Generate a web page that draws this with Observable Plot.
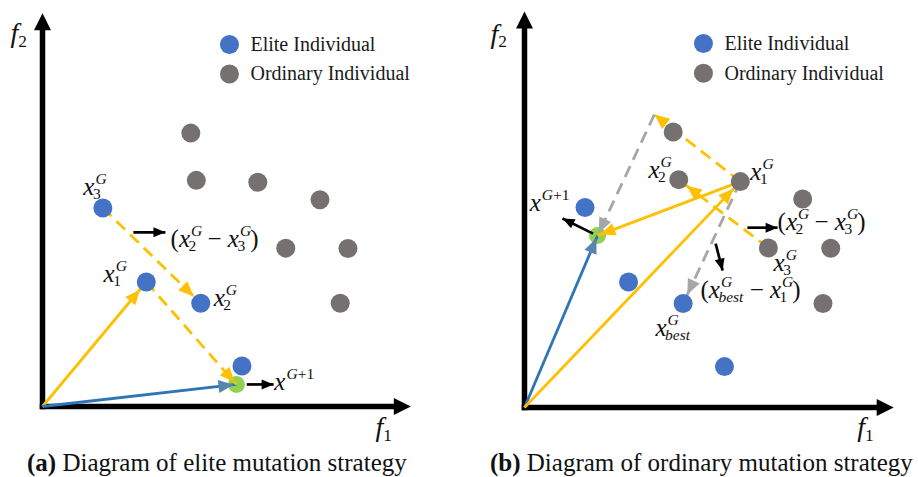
<!DOCTYPE html>
<html>
<head>
<meta charset="utf-8">
<script src="https://cdn.jsdelivr.net/npm/d3@7"></script>
<script src="https://cdn.jsdelivr.net/npm/@observablehq/plot@0.6"></script>
<style>
  body { margin: 0; background: #fff; }
  #fig { position: relative; width: 918px; height: 477px; overflow: hidden;
         font-family: "Liberation Serif", "DejaVu Serif", serif; color: #111; }
  .panel { position: absolute; top: 0; }
  .caption { position: absolute; top: 447.6px; font-size: 25px; line-height: 30px; white-space: nowrap; }
</style>
</head>
<body>
<div id="fig">
  <div class="panel" id="panel-a" style="left:0"></div>
  <div class="panel" id="panel-b" style="left:459px"></div>
  <div class="caption" style="left:27px"><b>(a)</b> Diagram of elite mutation strategy</div>
  <div class="caption" style="left:490px"><b>(b)</b> Diagram of ordinary mutation strategy</div>
</div>
<script>
// ---- population in objective space (f1, f2), shared by both strategies ----
const groups = ["Elite Individual", "Ordinary Individual"];
const elite = [
  {id: "e1", f1: 1.64, f2: 5.04},
  {id: "e2", f1: 2.82, f2: 3.16},
  {id: "e3", f1: 4.30, f2: 2.62},
  {id: "e4", f1: 5.42, f2: 1.03}
];
const ordinary = [
  {id: "o1", f1: 4.03, f2: 6.94},
  {id: "o2", f1: 4.18, f2: 5.74},
  {id: "o3", f1: 5.85, f2: 5.69},
  {id: "o4", f1: 7.54, f2: 5.25},
  {id: "o5", f1: 6.61, f2: 4.02},
  {id: "o6", f1: 8.30, f2: 4.01},
  {id: "o7", f1: 8.09, f2: 2.62}
];

// offspring x^{G+1} and the intermediate point x1 + (x2 - x3)
const offspringA = {id: "child", f1: 5.27, f2: 0.56};
const offspringB = {id: "child", f1: 1.98, f2: 4.33};
const partialB = {id: "v", f1: 3.52, f2: 7.38};

// vectors of each strategy ("O" is the origin of the objective space)
const vectorsA = [
  {from: "O", to: "e2", kind: "base"},
  {from: "O", to: "child", kind: "trial"},
  {from: "e1", to: "e3", kind: "diff"},
  {from: "e2", to: "child", kind: "diff"}
];
const vectorsB = [
  {from: "O", to: "child", kind: "trial"},
  {from: "O", to: "o3", kind: "base"},
  {from: "o3", to: "child", kind: "base"},
  {from: "o5", to: "o2", kind: "diff"},
  {from: "o3", to: "v", kind: "diff"},
  {from: "v", to: "child", kind: "best"},
  {from: "o3", to: "e3", kind: "best"}
];

// short black pointers from a term to its label
const pointersA = [
  {f1: 2.47, f2: 4.42, g1: 3.34, g2: 4.42},
  {f1: 5.55, f2: 0.56, g1: 6.28, g2: 0.56}
];
const pointersB = [
  {f1: 1.86, f2: 4.38, g1: 1.03, g2: 4.76},
  {f1: 6.04, f2: 4.53, g1: 6.86, g2: 4.53},
  {f1: 5.18, f2: 4.13, g1: 5.37, g2: 3.45}
];

// math labels: ^{..} superscript, _{..} subscript (anchored at the left baseline)
const labelsA = [
  {f1: 1.11, f2: 5.38, tex: "x^{G}_{3}"},
  {f1: 1.66, f2: 3.17, tex: "x^{G}_{1}"},
  {f1: 4.65, f2: 2.54, tex: "x^{G}_{2}"},
  {f1: 3.48, f2: 4.04, tex: "(x^{G}_{2} − x^{G}_{3})"},
  {f1: 6.30, f2: 0.41, tex: "x^{G+1}"}
];
const labelsB = [
  {f1: 3.36, f2: 5.79, tex: "x^{G}_{2}"},
  {f1: 6.12, f2: 5.74, tex: "x^{G}_{1}"},
  {f1: 0.14, f2: 4.94, tex: "x^{G+1}"},
  {f1: 6.86, f2: 4.46, tex: "(x^{G}_{2} − x^{G}_{3})"},
  {f1: 6.75, f2: 3.45, tex: "x^{G}_{3}"},
  {f1: 4.77, f2: 2.75, tex: "(x^{G}_{best} − x^{G}_{1})"},
  {f1: 3.55, f2: 1.81, tex: "x^{G}_{best}"}
];
// objective axis titles
const axisTitlesA = [
  {f1: -0.87, f2: 9.24, tex: "f_{2}"},
  {f1: 9.05, f2: -0.76, tex: "f_{1}"}
];
const axisTitlesB = [
  {f1: -0.92, f2: 9.19, tex: "f_{2}"},
  {f1: 9.02, f2: -0.73, tex: "f_{1}"}
];

// ---- styling ----
const AXIS_END = 9.6;
const BLUE = "#4472C4", GRAY = "#767171", GREEN = "#92D050", YELLOW = "#FFC000";
const R = 9.5;
const NS = "http://www.w3.org/2000/svg";
const VECTOR_STYLE = {
  base:  {stroke: YELLOW, head: YELLOW, width: 2.8},
  diff:  {stroke: YELLOW, head: YELLOW, width: 2.8, dash: "12,7"},
  trial: {stroke: "#2E75B6", head: "#5A84B0", width: 2.8},
  best:  {stroke: "#A6A6A6", head: "#A6A6A6", width: 2.8, dash: "12,7"}
};

// filled triangular arrowhead; `back` moves the tip back from the line end
function head({length, width, color, back = 0}) {
  return (stroke, context) => {
    const doc = (context && context.document) || document;
    const m = doc.createElementNS(NS, "marker");
    m.setAttribute("viewBox", `0 ${-width / 2} ${length} ${width}`);
    m.setAttribute("markerUnits", "userSpaceOnUse");
    m.setAttribute("markerWidth", length);
    m.setAttribute("markerHeight", width);
    m.setAttribute("refX", length + back);
    m.setAttribute("refY", 0);
    m.setAttribute("orient", "auto");
    m.setAttribute("overflow", "visible");
    const p = doc.createElementNS(NS, "path");
    p.setAttribute("d", `M0,${-width / 2}L${length},0L0,${width / 2}Z`);
    p.setAttribute("fill", color || stroke);
    p.setAttribute("stroke", "none");
    m.appendChild(p);
    return m;
  };
}

const population = [
  ...elite.map(d => ({...d, group: groups[0]})),
  ...ordinary.map(d => ({...d, group: groups[1]}))
];

function panel({margins, child, extra = [], vectors, pointers, labels, titles, legendAt}) {
  const pts = new Map([["O", {id: "O", f1: 0, f2: 0}], ...population.map(d => [d.id, d])]);
  pts.set("child", child);
  for (const e of extra) pts.set(e.id, e);

  const axes = [
    {f1: 0, f2: 0, g1: AXIS_END, g2: 0},
    {f1: 0, f2: 0, g1: 0, g2: AXIS_END}
  ];

  const vectorMarks = vectors.map(v => {
    const s = VECTOR_STYLE[v.kind];
    const a = pts.get(v.from), b = pts.get(v.to);
    const back = b.id === "child" ? 3 : b.group ? R + 0.5 : 0;
    return Plot.link([{f1: a.f1, f2: a.f2, g1: b.f1, g2: b.f2}], {
      x1: "f1", y1: "f2", x2: "g1", y2: "g2",
      stroke: s.stroke, strokeWidth: s.width, strokeDasharray: s.dash,
      markerEnd: head({length: 15, width: 13, color: s.head, back})
    });
  });

  return Plot.plot({
    width: 459,
    height: 445,
    ...margins,
    x: {domain: [0, AXIS_END], axis: null},
    y: {domain: [0, AXIS_END], axis: null},
    color: {domain: groups, range: [BLUE, GRAY]},
    style: {fontFamily: "'Liberation Serif', 'DejaVu Serif', serif", background: "transparent", overflow: "visible", color: "#111"},
    marks: [
      Plot.link(axes, {
        x1: "f1", y1: "f2", x2: "g1", y2: "g2",
        stroke: "#000", strokeWidth: 5.5, strokeLinecap: "square",
        markerEnd: head({length: 17, width: 17, color: "#000", back: -15})
      }),
      Plot.dot([child], {x: "f1", y: "f2", r: 8.5, fill: GREEN}),
      ...vectorMarks,
      Plot.dot(population, {x: "f1", y: "f2", r: R, fill: "group"}),
      Plot.link(pointers, {
        x1: "f1", y1: "f2", x2: "g1", y2: "g2",
        stroke: "#000", strokeWidth: 2.7,
        markerEnd: head({length: 12, width: 10, color: "#000"})
      }),
      Plot.text(labels, {
        x: "f1", y: "f2", text: "tex", textAnchor: "start", lineAnchor: "bottom",
        fontSize: 25, fill: "#111"
      }),
      Plot.text(titles, {
        x: "f1", y: "f2", text: "tex", textAnchor: "start", lineAnchor: "bottom",
        fontSize: 28, fill: "#111"
      }),
      // in-frame legend
      Plot.dot(groups, {x: () => legendAt.f1, y: (d, i) => legendAt.f2 - i * 0.75, fill: d => d, r: R}),
      Plot.text(groups, {
        x: () => legendAt.f1, y: (d, i) => legendAt.f2 - i * 0.75, text: d => d,
        dx: 21, textAnchor: "start", fontSize: 20, fill: "#1a1a1a"
      })
    ]
  });
}

const plotA = panel({
  margins: {marginLeft: 42, marginRight: 63.7, marginTop: 27.8, marginBottom: 39},
  child: offspringA, vectors: vectorsA, pointers: pointersA, labels: labelsA, titles: axisTitlesA,
  legendAt: {f1: 5.08, f2: 9.19}
});
const plotB = panel({
  margins: {marginLeft: 65, marginRight: 39.8, marginTop: 25.9, marginBottom: 38},
  child: offspringB, extra: [partialB], vectors: vectorsB, pointers: pointersB, labels: labelsB, titles: axisTitlesB,
  legendAt: {f1: 4.85, f2: 9.17}
});
document.getElementById("panel-a").appendChild(plotA);
document.getElementById("panel-b").appendChild(plotB);

// turn ^{..} / _{..} markup into stacked super/subscripts
function typeset(root) {
  const SUP = 0.44, SUB = 0.16, SCRIPT = 0.62;
  root.querySelectorAll("text").forEach(t => {
    const src = t.textContent;
    if (!/[\^_]\{/.test(src)) return;
    const base = parseFloat(getComputedStyle(t).fontSize) || 25;
    const small = base * SCRIPT;
    t.textContent = "";
    t.style.whiteSpace = "pre";
    const parts = src.split(/([\^_]\{[^}]*\})/).filter(s => s);
    let shift = 0, lastSup = 0, prev = null, carry = 0;
    for (const part of parts) {
      const kind = part.startsWith("^{") ? "sup" : part.startsWith("_{") ? "sub" : "text";
      const str = kind === "text" ? part : part.slice(2, -1);
      const target = kind === "sup" ? -SUP * base : kind === "sub" ? SUB * base : 0;
      const size = kind === "text" ? base : small;
      let dx = carry;
      carry = 0;
      if (kind === "sup") dx += 1;
      if (kind === "sub" && prev === "sup") dx -= lastSup + 2.5;
      let width = 0;
      const runs = str.match(/[A-Za-z]+|[^A-Za-z]+/g) || [];
      runs.forEach((r, k) => {
        const s = document.createElementNS(NS, "tspan");
        s.textContent = r;
        s.setAttribute("font-size", size);
        s.setAttribute("font-style", /[A-Za-z]/.test(r) ? "italic" : "normal");
        if (k === 0) {
          if (dx) s.setAttribute("dx", dx);
          if (target !== shift) s.setAttribute("dy", target - shift);
        }
        t.appendChild(s);
        width += s.getComputedTextLength();
      });
      shift = target;
      if (kind === "sub" && prev === "sup") carry = Math.max(0, lastSup + 1.5 - width);
      if (kind === "sup") lastSup = width;
      prev = kind;
    }
  });
}
typeset(document.getElementById("fig"));
</script>
</body>
</html>
